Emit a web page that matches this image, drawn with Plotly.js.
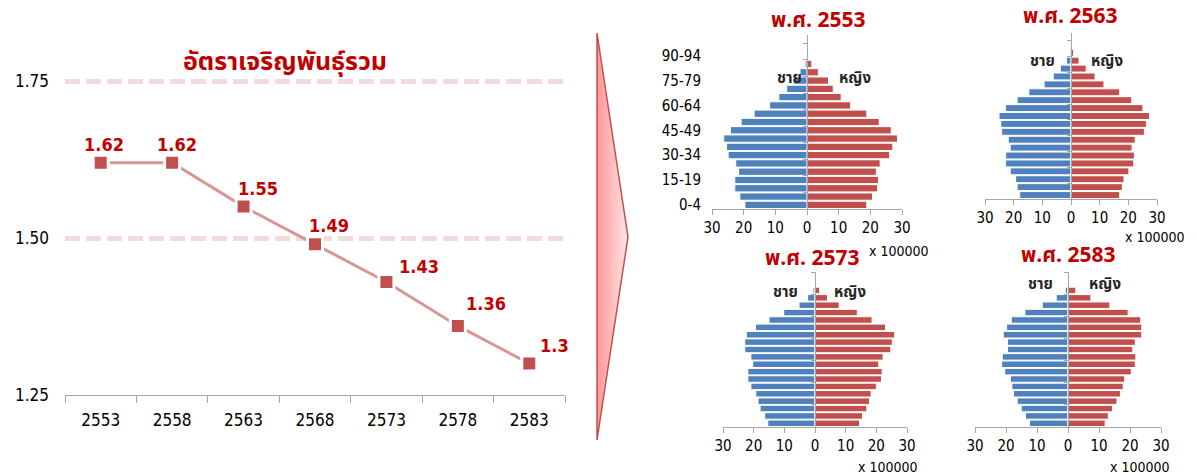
<!DOCTYPE html>
<html>
<head>
<meta charset="utf-8">
<script src="https://cdn.plot.ly/plotly-3.0.1.min.js"></script>
<style>
  html, body { margin: 0; padding: 0; background: #ffffff; }
  #chart { width: 1197px; height: 476px; }
</style>
</head>
<body>
<div id="chart"></div>
<script>
// ---- Total fertility rate (left panel) ----
const years = [2553, 2558, 2563, 2568, 2573, 2578, 2583];
const tfr = [1.62, 1.62, 1.55, 1.49, 1.43, 1.36, 1.3];
const tfrTicks = [1.25, 1.5, 1.75];
const tfrTickText = ['1.25', '1.50', '1.75'];

// ---- Population pyramids (x 100000 persons) ----
const ageGroups = ['0-4', '5-9', '10-14', '15-19', '20-24', '25-29', '30-34', '35-39',
  '40-44', '45-49', '50-54', '55-59', '60-64', '65-69', '70-74', '75-79', '80-84',
  '85-89', '90-94', '95-99', '100+'];
const ageTickLabels = ['0-4', '15-19', '30-34', '45-49', '60-64', '75-79', '90-94'];

const male2553 = [19.6, 21.2, 22.8, 22.8, 21.6, 22.5, 24.9, 25.4, 26.3, 24.2, 20.8,
  16.7, 11.8, 8.9, 6.4, 4.2, 2.2, 0.6, 0.15, 0.05, 0.02];
const female2553 = [18.9, 20.7, 22.3, 22.6, 21.9, 23.1, 26.1, 27.1, 28.6, 26.6, 22.8,
  18.9, 13.8, 10.8, 8.3, 6.8, 3.6, 1.5, 0.3, 0.1, 0.02];

const male2563 = [17.9, 18.8, 19.3, 21.2, 22.8, 22.8, 21.2, 21.9, 24.2, 24.5, 25.1,
  22.8, 18.8, 14.7, 9.4, 6.2, 3.7, 1.6, 0.5, 0.1, 0.02];
const female2563 = [17.0, 17.9, 18.5, 20.2, 21.9, 22.1, 21.3, 22.4, 25.6, 26.3, 27.4,
  25.1, 21.2, 17.0, 11.5, 8.4, 5.3, 2.8, 0.9, 0.2, 0.05];

const male2573 = [15.4, 16.4, 17.9, 18.6, 19.3, 20.9, 21.9, 21.9, 20.3, 20.9, 22.9,
  22.9, 22.4, 19.4, 15.0, 10.2, 5.2, 2.4, 0.65, 0.1, 0.02];
const female2573 = [14.5, 15.5, 16.9, 17.8, 18.3, 20.0, 21.7, 21.9, 20.8, 22.2, 24.7,
  25.2, 26.0, 23.0, 18.6, 13.8, 7.9, 4.1, 1.5, 0.3, 0.05];

const male2583 = [12.4, 13.7, 15.1, 16.4, 17.6, 18.1, 18.6, 20.4, 21.4, 21.2, 19.5,
  19.5, 20.9, 19.8, 18.3, 13.9, 8.3, 3.8, 0.9, 0.15, 0.02];
const female2583 = [12.0, 13.0, 14.4, 15.8, 16.9, 17.8, 18.3, 20.4, 21.7, 21.9, 20.9,
  21.7, 23.8, 23.8, 23.5, 19.4, 13.5, 7.4, 2.5, 0.5, 0.1];

const pyramidYears = ['2553', '2563', '2573', '2583'];
const maleSeries = [male2553, male2563, male2573, male2583];
const femaleSeries = [female2553, female2563, female2573, female2583];
const popTicks = [-30, -20, -10, 0, 10, 20, 30];
const popTickText = ['30', '20', '10', '0', '10', '20', '30'];
const maleLabel = 'ชาย';
const femaleLabel = 'หญิง';
const unitLabel = 'x 100000';
const tfrTitle = 'อัตราเจริญพันธุ์รวม';

// ---- page geometry helpers (pixels -> paper fractions) ----
const W = 1197, H = 476;
const fx = p => p / W;
const fy = p => 1 - p / H;

const THAI = "Tahoma, 'Noto Sans Thai', 'Noto Sans Thai UI', 'Noto Sans', sans-serif";
const NUM = "'DejaVu Sans Condensed', 'DejaVu Sans', sans-serif";
const DARKRED = '#c00000';
const AXIS = '#a6a6a6';
const MALE = '#4f81bd';
const FEMALE = '#c0504d';

// pixel frames of each pyramid: left edge, right edge, bottom, top, text anchors
const frames = [
  { l: 712, r: 902, b: 209, t: 35, title: [818, 21], m: [789, 79], f: [855, 79], unit: [899, 251] },
  { l: 985, r: 1157, b: 199, t: 33, title: [1070, 17], m: [1042, 62], f: [1107, 62], unit: [1155, 237] },
  { l: 723, r: 907, b: 427, t: 272, title: [812, 258], m: [785, 292], f: [850, 292], unit: [888, 467] },
  { l: 975, r: 1161, b: 427, t: 272, title: [1068, 255], m: [1040, 284], f: [1105, 284], unit: [1140, 467] }
];

// offsets of the value labels from their markers (pixels)
const labelDx = [3, 5, 14, 14, 33, 28, 25];
const labelDy = [18, 18, 18, 19, 15, 22, 18];

const yearStep = 5;
const xLo = years[0] - yearStep / 2, xHi = years[years.length - 1] + yearStep / 2;

const traces = [];
const layout = {
  width: W, height: H,
  margin: { l: 0, r: 0, t: 0, b: 0 },
  paper_bgcolor: '#ffffff',
  plot_bgcolor: 'rgba(0,0,0,0)',
  showlegend: false,
  barmode: 'relative',
  bargap: 0.12,
  annotations: [],
  xaxis: {
    domain: [fx(65), fx(565)], anchor: 'y', type: 'linear', range: [xLo, xHi],
    tickvals: years, ticktext: years.map(String), ticks: '',
    minor: { tick0: xLo, dtick: yearStep, ticks: 'outside', ticklen: 7, tickcolor: AXIS, showgrid: false },
    showline: true, linecolor: AXIS, linewidth: 1,
    ticklabelstandoff: 10,
    tickfont: { family: NUM, size: 17, color: '#000' },
    showgrid: false, zeroline: false, fixedrange: true
  },
  yaxis: {
    domain: [fy(395), fy(49.6)], anchor: 'x', range: [1.25, 1.8],
    tickvals: tfrTicks, ticktext: tfrTickText, ticks: '',
    ticklabelstandoff: 15,
    tickfont: { family: NUM, size: 17, color: '#000' },
    showgrid: true, gridcolor: '#f2dcdb', gridwidth: 5, griddash: '15px,6px',
    zeroline: false, showline: false, fixedrange: true
  }
};

// TFR line
traces.push({
  type: 'scatter', mode: 'lines+markers', x: years, y: tfr,
  line: { color: '#d99694', width: 3 },
  marker: { symbol: 'square', size: 15, color: '#c0504d', line: { color: '#ffffff', width: 3 } },
  cliponaxis: false, hoverinfo: 'x+y'
});
tfr.forEach((v, i) => {
  layout.annotations.push({
    x: years[i], y: v, xref: 'x', yref: 'y', text: '<b>' + String(v) + '</b>', showarrow: false,
    xanchor: 'center', yanchor: 'middle',
    xshift: labelDx[i], yshift: labelDy[i],
    font: { family: NUM, size: 18, color: DARKRED }
  });
});
layout.annotations.push({
  x: fx(285), y: fy(62), xref: 'paper', yref: 'paper', text: '<b>' + tfrTitle + '</b>',
  xanchor: 'center', yanchor: 'middle',
  showarrow: false, font: { family: THAI, size: 25, color: DARKRED }
});

// decorative arrow between the two panels
layout.xaxis10 = { domain: [0, 1], anchor: 'y10', range: [0, W], visible: false, fixedrange: true };
layout.yaxis10 = { domain: [0, 1], anchor: 'x10', range: [H, 0], visible: false, fixedrange: true };
const arrowX = [597, 628, 597, 597];
const arrowY = [33, 237, 440, 33];
traces.push({
  type: 'scatter', mode: 'lines', xaxis: 'x10', yaxis: 'y10',
  x: arrowX, y: arrowY, fill: 'toself',
  fillgradient: { type: 'horizontal', colorscale: [[0, '#ff9797'], [1, '#ffe6e6']] },
  fillcolor: '#ffc0c0',
  line: { color: '#c0504d', width: 1.5 }, hoverinfo: 'skip'
});

// pyramids
frames.forEach((fr, k) => {
  const n = k + 2;
  const xa = 'xaxis' + n, ya = 'yaxis' + n;
  const zeroPx = (fr.l + fr.r) / 2;
  layout[xa] = {
    domain: [fx(fr.l), fx(fr.r)], anchor: 'y' + n, range: [-30, 30],
    tickvals: popTicks, ticktext: popTickText,
    ticks: 'outside', ticklen: 5, tickcolor: AXIS,
    showline: true, linecolor: AXIS, linewidth: 1,
    tickfont: { family: NUM, size: 15, color: '#000' },
    showgrid: false, zeroline: false, fixedrange: true
  };
  layout[ya] = {
    domain: [fy(fr.b), fy(fr.t)], anchor: 'free', position: fx(zeroPx),
    type: 'category', categoryarray: ageGroups, categoryorder: 'array',
    range: [-0.5, ageGroups.length - 0.5],
    showline: true, linecolor: AXIS, linewidth: 1,
    ticks: 'outside', tickson: 'boundaries', ticklen: 4, tickcolor: AXIS,
    showticklabels: false, showgrid: false, zeroline: false, fixedrange: true
  };
  let maleY = 'y' + n;
  if (k === 0) {
    // age labels along the left edge of the first pyramid
    layout.yaxis6 = {
      overlaying: 'y2', anchor: 'x2', side: 'left',
      type: 'category', categoryarray: ageGroups, categoryorder: 'array',
      range: [-0.5, ageGroups.length - 0.5],
      tickvals: ageTickLabels, ticks: '', ticklabelstandoff: 10,
      tickfont: { family: NUM, size: 15, color: '#000' },
      showline: false, showgrid: false, zeroline: false, fixedrange: true
    };
    maleY = 'y6';
  }
  traces.push({
    type: 'bar', orientation: 'h', xaxis: 'x' + n, yaxis: maleY,
    y: ageGroups, x: maleSeries[k].map(v => -v), name: maleLabel,
    marker: { color: MALE, line: { color: '#ffffff', width: 1 } },
    hovertemplate: '%{y}: %{customdata}<extra>' + maleLabel + '</extra>',
    customdata: maleSeries[k]
  });
  traces.push({
    type: 'bar', orientation: 'h', xaxis: 'x' + n, yaxis: 'y' + n,
    y: ageGroups, x: femaleSeries[k], name: femaleLabel,
    marker: { color: FEMALE, line: { color: '#ffffff', width: 1 } },
    hovertemplate: '%{y}: %{x}<extra>' + femaleLabel + '</extra>'
  });

  const ann = (p, text, font) => layout.annotations.push({
    x: fx(p[0]), y: fy(p[1]), xref: 'paper', yref: 'paper', text, showarrow: false,
    xanchor: 'center', yanchor: 'middle', font
  });
  ann(fr.title, '<b>พ.ศ. ' + pyramidYears[k] + '</b>', { family: THAI, size: 21, color: DARKRED });
  ann(fr.m, '<b>' + maleLabel + '</b>', { family: THAI, size: 15, color: '#262626' });
  ann(fr.f, '<b>' + femaleLabel + '</b>', { family: THAI, size: 15, color: '#262626' });
  ann(fr.unit, unitLabel, { family: NUM, size: 14, color: '#000' });
});

Plotly.newPlot('chart', traces, layout, { displayModeBar: false, staticPlot: true });
</script>
</body>
</html>
